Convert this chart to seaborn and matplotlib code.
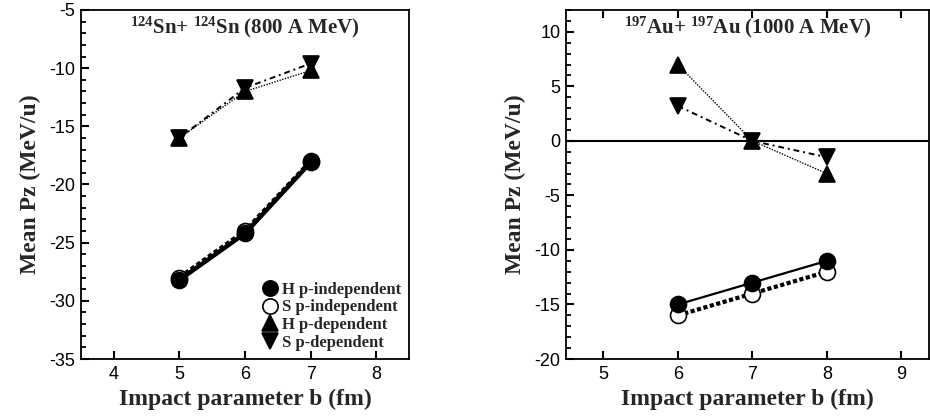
import pandas as pd
import matplotlib
matplotlib.use("Agg")
import matplotlib.pyplot as plt
import seaborn as sns
from matplotlib.lines import Line2D
from matplotlib.ticker import MultipleLocator, NullLocator

# --- data ---
b_sn = [5, 6, 7]
sn_h_indep = [-28.2, -24.2, -18.1]
sn_s_indep = [-28.0, -24.0, -18.0]
sn_h_dep = [-16.0, -12.0, -10.2]
sn_s_dep = [-16.0, -11.7, -9.6]

b_au = [6, 7, 8]
au_h_indep = [-15.0, -13.0, -11.0]
au_s_indep = [-16.0, -14.0, -12.0]
au_h_dep = [7.0, 0.0, -3.0]
au_s_dep = [3.2, 0.0, -1.5]

labels = ["H p-independent", "S p-independent", "H p-dependent", "S p-dependent"]

sns.set_style("ticks")
plt.rcParams["font.family"] = ["Liberation Sans", "DejaVu Sans"]
plt.rcParams["axes.unicode_minus"] = False
plt.rcParams["mathtext.fontset"] = "custom"
plt.rcParams["mathtext.rm"] = "Liberation Serif:bold"
plt.rcParams["mathtext.it"] = "Liberation Serif:bold"
plt.rcParams["mathtext.bf"] = "Liberation Serif:bold"

serif = ["Liberation Serif", "DejaVu Serif"]

styles = [
    dict(marker="o", linestyle="-", mfc="black", mec="black"),
    dict(marker="o", linestyle=(0, (1, 0.6)), mfc="white", mec="black"),
    dict(marker="^", linestyle=(0, (1, 1)), mfc="black", mec="black"),
    dict(marker="v", linestyle=(0, (3, 2, 1, 2)), mfc="black", mec="black"),
]

fig = plt.figure(figsize=(9.3, 4.19), dpi=100)
W, H = 930, 419
ax1 = fig.add_axes([81 / W, 60 / H, 328 / W, 349 / H])
ax2 = fig.add_axes([566 / W, 60 / H, 363 / W, 349 / H])


def panel(ax, x, series, widths, xlim, ylim, top):
    for y, st, lw, z in zip(series, styles, widths, [4, 3, 3, 3]):
        d = pd.DataFrame({"b": x, "pz": y})
        sns.lineplot(data=d, x="b", y="pz", ax=ax, color="black", lw=lw,
                     markersize=11.5, mew=1.2, zorder=z, **st)
    ax.set_xlim(*xlim)
    ax.set_ylim(*ylim)
    ax.xaxis.set_major_locator(MultipleLocator(1))
    ax.yaxis.set_major_locator(MultipleLocator(5))
    ax.yaxis.set_minor_locator(MultipleLocator(1))
    ax.tick_params(axis="x", which="major", direction="in", bottom=True, top=top,
                   length=6, width=1.5, labelsize=13, pad=5, colors="black")
    ax.tick_params(axis="y", which="major", direction="in", left=True, right=False,
                   length=6, width=1.5, labelsize=13, pad=4, colors="black")
    ax.tick_params(axis="y", which="minor", direction="in", left=True, right=False,
                   length=3.5, width=1.3, colors="black")
    for s in ax.spines.values():
        s.set_linewidth(1.3)
        s.set_color("black")
    ax.set_xlabel("Impact parameter b (fm)", family=serif, fontweight="bold",
                  fontsize=17, labelpad=4)
    ax.set_ylabel("Mean Pz (MeV/u)", family=serif, fontweight="bold",
                  fontsize=17, labelpad=6)


panel(ax1, b_sn, [sn_h_indep, sn_s_indep, sn_h_dep, sn_s_dep],
      [3.2, 3.2, 1.0, 1.4], (3.5, 8.5), (-35, -5), False)
panel(ax2, b_au, [au_h_indep, au_s_indep, au_h_dep, au_s_dep],
      [1.6, 3.0, 1.0, 1.4], (4.5, 9.37), (-20, 12), True)

ax2.axhline(0, color="black", lw=1.5, zorder=2)

ax1.text(0.5, 0.985, r"$^{124}$Sn+ $^{124}$Sn (800 A MeV)", transform=ax1.transAxes,
         ha="center", va="top", family=serif, fontweight="bold", fontsize=15)
ax2.text(0.5, 0.985, r"$^{197}$Au+ $^{197}$Au (1000 A MeV)", transform=ax2.transAxes,
         ha="center", va="top", family=serif, fontweight="bold", fontsize=15)

handles = [Line2D([], [], color="black", linestyle="none", marker=st["marker"],
                  mfc=st["mfc"], mec=st["mec"], markersize=11, mew=1.2)
           for st in styles]
ax1.legend(handles, labels, loc="lower right", frameon=False,
           prop=dict(family=serif, weight="bold", size=12),
           handletextpad=0.1, labelspacing=0.1, borderaxespad=0.1,
           handlelength=1.2)

fig.savefig("out.png", dpi=100)
